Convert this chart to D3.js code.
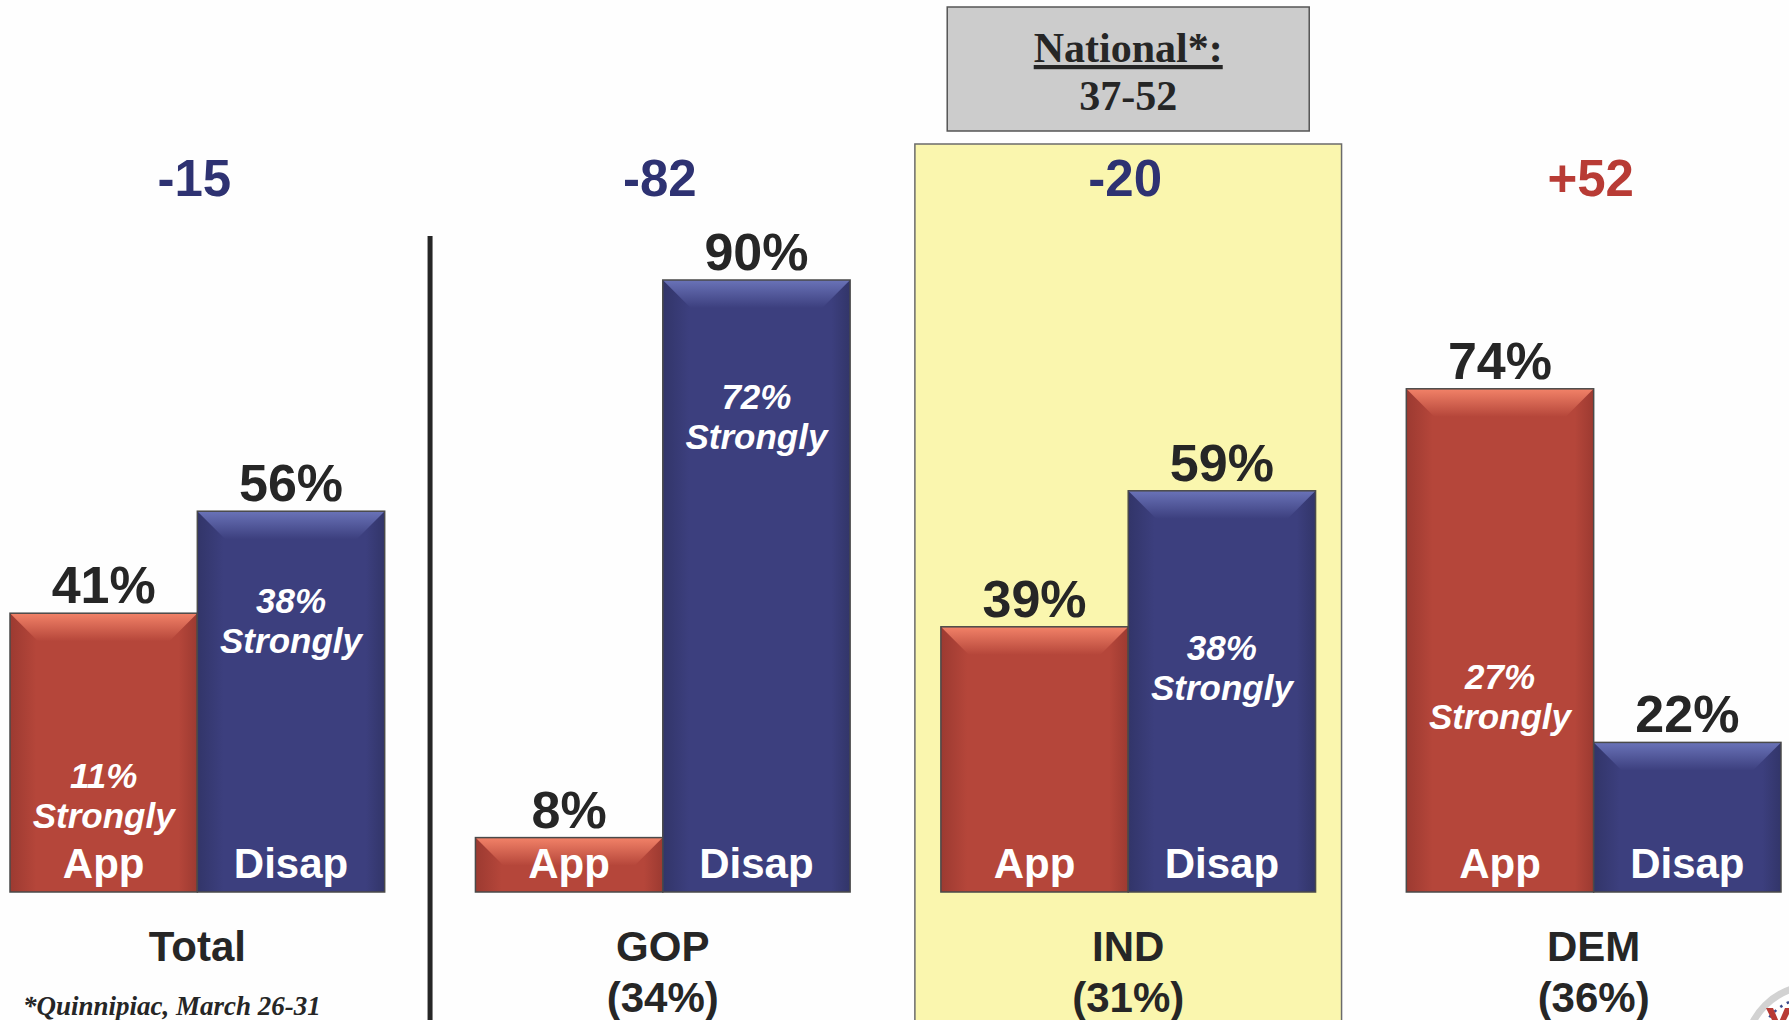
<!DOCTYPE html>
<html>
<head>
<meta charset="utf-8">
<script src="https://cdn.jsdelivr.net/npm/d3@7/dist/d3.min.js"></script>
<style>
  html, body { margin: 0; padding: 0; background: #fefefe; }
  svg { display: block; }
</style>
</head>
<body>
<div id="chart"></div>
<script>
// Data
const groups = ["Total", "GOP", "IND", "DEM"];
const groupShare = [null, "34%", "31%", "36%"];
const approve = [41, 8, 39, 74];
const disapprove = [56, 90, 59, 22];
const strongApprove = [11, null, null, 27];
const strongDisapprove = [38, 72, 38, null];
const barKeys = ["App", "Disap"];
const national = [37, 52];
const highlightGroup = "IND";
const footnote = "*Quinnipiac, March 26-31";

// hand placement of the "Strongly" notes (px, relative to the strong level)
const strongNudge = { "Total-App": -29, "Total-Disap": -21, "GOP-Disap": 7, "IND-Disap": 26, "DEM-App": -19 };

const width = 1789, height = 1020;

const svg = d3.select("#chart").append("svg")
    .attr("width", width)
    .attr("height", height)
    .style("background", "#fefefe");

// gradients for the bevelled bars
const defs = svg.append("defs");
const palette = {
    App: { body: "#b5463a", edge: "#9c3a31", light: "#f28268" },
    Disap: { body: "#3c3f7e", edge: "#323569", light: "#6a73b8" }
};
Object.keys(palette).forEach(k => {
    const p = palette[k];
    const side = defs.append("linearGradient").attr("id", "side-" + k)
        .attr("x1", 0).attr("x2", 1).attr("y1", 0).attr("y2", 0);
    side.append("stop").attr("offset", "0%").attr("stop-color", p.edge);
    side.append("stop").attr("offset", "14%").attr("stop-color", p.body);
    side.append("stop").attr("offset", "90%").attr("stop-color", p.body);
    side.append("stop").attr("offset", "100%").attr("stop-color", p.edge);
    const top = defs.append("linearGradient").attr("id", "top-" + k)
        .attr("x1", 0).attr("x2", 0).attr("y1", 0).attr("y2", 1);
    top.append("stop").attr("offset", "0%").attr("stop-color", p.light);
    top.append("stop").attr("offset", "100%").attr("stop-color", p.body);
});

// scales
const x = d3.scaleBand()
    .domain(groups)
    .range([10, 1781])
    .paddingInner(0.195)
    .paddingOuter(0);

const xSub = d3.scaleBand()
    .domain(barKeys)
    .range([0, x.bandwidth()]);

const y = d3.scaleLinear()
    .domain([0, 100])
    .range([892, 212]);

// highlight box behind IND
const hx = x(highlightGroup);
svg.append("rect")
    .attr("x", hx - 26)
    .attr("y", 144)
    .attr("width", x.bandwidth() + 52)
    .attr("height", 900)
    .attr("fill", "#faf6ae")
    .attr("stroke", "#6b6b6b")
    .attr("stroke-width", 1.5);

// national comparison box
const nx = hx + x.bandwidth() / 2;
svg.append("rect")
    .attr("x", nx - 181)
    .attr("y", 7)
    .attr("width", 362)
    .attr("height", 124)
    .attr("fill", "#cccccc")
    .attr("stroke", "#555")
    .attr("stroke-width", 1.5);
svg.append("text")
    .attr("x", nx).attr("y", 62)
    .attr("text-anchor", "middle")
    .style("font", "bold 42px 'Liberation Serif', 'Times New Roman', serif")
    .style("text-decoration", "underline")
    .attr("fill", "#262626")
    .text("National*:");
svg.append("text")
    .attr("x", nx).attr("y", 110)
    .attr("text-anchor", "middle")
    .style("font", "bold 42px 'Liberation Serif', 'Times New Roman', serif")
    .attr("fill", "#262626")
    .text(national.join("-"));

// separator between Total and the party groups
const sepX = (x("Total") + x.bandwidth() + x("GOP")) / 2;
svg.append("line")
    .attr("x1", sepX).attr("x2", sepX)
    .attr("y1", 236).attr("y2", height)
    .attr("stroke", "#262626")
    .attr("stroke-width", 5);

// flatten into bar records
const bars = [];
groups.forEach((g, i) => {
    bars.push({ group: g, key: "App", value: approve[i], strong: strongApprove[i] });
    bars.push({ group: g, key: "Disap", value: disapprove[i], strong: strongDisapprove[i] });
});

const bevel = 28;
const bar = svg.append("g").selectAll("g")
    .data(bars)
    .join("g")
    .attr("transform", d => `translate(${x(d.group) + xSub(d.key)},0)`);

bar.append("rect")
    .attr("x", 0)
    .attr("y", d => y(d.value))
    .attr("width", xSub.bandwidth())
    .attr("height", d => y(0) - y(d.value))
    .attr("fill", d => `url(#side-${d.key})`);

bar.append("path")
    .attr("d", d => {
        const t = y(d.value), w = xSub.bandwidth();
        return `M0,${t}L${w},${t}L${w - bevel},${t + bevel}L${bevel},${t + bevel}Z`;
    })
    .attr("fill", d => `url(#top-${d.key})`);

bar.append("rect")
    .attr("x", 0)
    .attr("y", d => y(d.value))
    .attr("width", xSub.bandwidth())
    .attr("height", d => y(0) - y(d.value))
    .attr("fill", "none")
    .attr("stroke", "#4a4a4a")
    .attr("stroke-width", 1.5);

// value labels above the bars
bar.append("text")
    .attr("x", xSub.bandwidth() / 2)
    .attr("y", d => y(d.value) - 10)
    .attr("text-anchor", "middle")
    .style("font", "bold 52px 'Liberation Sans', Arial, sans-serif")
    .attr("fill", "#262626")
    .text(d => d.value + "%");

// App / Disap labels inside the bars
bar.append("text")
    .attr("x", xSub.bandwidth() / 2)
    .attr("y", y(0) - 14)
    .attr("text-anchor", "middle")
    .style("font", "bold 42px 'Liberation Sans', Arial, sans-serif")
    .attr("fill", "#fff")
    .text(d => d.key);

// "Strongly" labels
const strong = bar.filter(d => d.strong != null).append("text")
    .attr("text-anchor", "middle")
    .style("font", "italic bold 35px 'Liberation Sans', Arial, sans-serif")
    .attr("fill", "#fff");
strong.append("tspan")
    .attr("x", xSub.bandwidth() / 2)
    .attr("y", d => y(d.strong) + (strongNudge[d.group + "-" + d.key] || 0))
    .text(d => d.strong + "%");
strong.append("tspan")
    .attr("x", xSub.bandwidth() / 2)
    .attr("dy", 40)
    .text("Strongly");

// net scores on top
const net = (i) => {
    const n = approve[i] - disapprove[i];
    return n > 0 ? "+" + n : String(n);
};
svg.append("g").selectAll("text")
    .data(groups)
    .join("text")
    .attr("x", g => x(g) + x.bandwidth() / 2 - 3)
    .attr("y", 196)
    .attr("text-anchor", "middle")
    .style("font", "bold 51px 'Liberation Sans', Arial, sans-serif")
    .attr("fill", (g, i) => approve[i] > disapprove[i] ? "#b83b35" : "#2e3272")
    .text((g, i) => net(i));

// group labels
const gl = svg.append("g").selectAll("text")
    .data(groups)
    .join("text")
    .attr("text-anchor", "middle")
    .style("font", "bold 42px 'Liberation Sans', Arial, sans-serif")
    .attr("fill", "#262626");
gl.append("tspan")
    .attr("x", g => x(g) + x.bandwidth() / 2)
    .attr("y", 961)
    .text(g => g);
gl.filter(g => groupShare[groups.indexOf(g)] != null).append("tspan")
    .attr("x", g => x(g) + x.bandwidth() / 2)
    .attr("y", 1012)
    .text(g => "(" + groupShare[groups.indexOf(g)] + ")");

// source note
svg.append("text")
    .attr("x", 23).attr("y", 1015)
    .style("font", "italic bold 27px 'Liberation Serif', 'Times New Roman', serif")
    .attr("fill", "#262626")
    .text(footnote);

// corner seal (partly off the slide)
const seal = svg.append("g").attr("transform", "translate(1812,1052)");
seal.append("circle").attr("r", 66).attr("fill", "#fff")
    .attr("stroke", "#d2d2d2").attr("stroke-width", 7);
seal.append("circle").attr("r", 55).attr("fill", "none")
    .attr("stroke", "#3b4a8c").attr("stroke-width", 2.5)
    .attr("stroke-dasharray", "2.5,5");
seal.append("path")
    .attr("d", "M-46,-44L-39,-44L-33,-30L-27,-44L-20,-44L-30,-24L-36,-24Z")
    .attr("fill", "#b83b35");
</script>
</body>
</html>
